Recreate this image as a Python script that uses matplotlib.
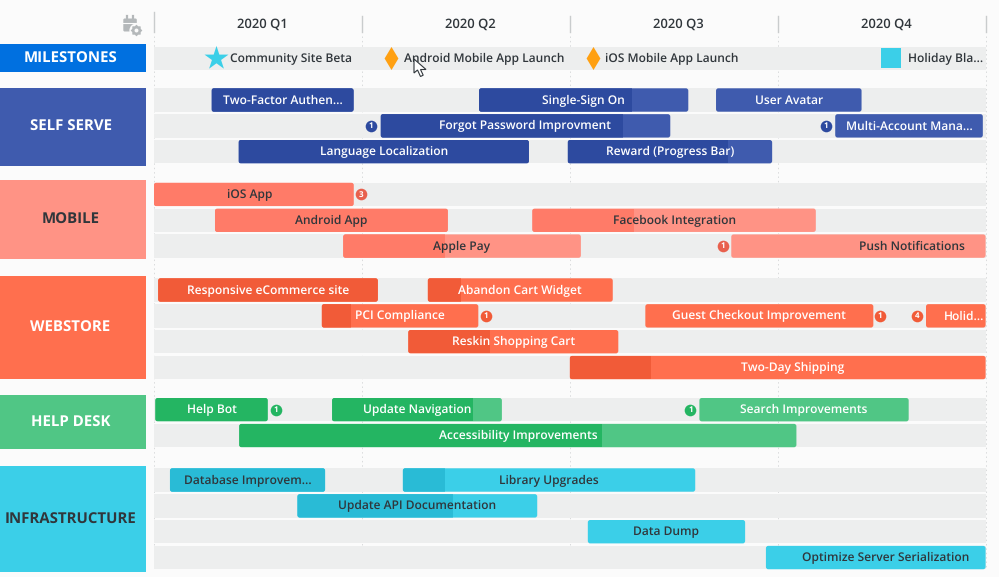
#!/usr/bin/env python3
"""Product roadmap 2020, swimlanes per team."""

import matplotlib

matplotlib.use("Agg")
import matplotlib.pyplot as plt
from matplotlib.patches import FancyBboxPatch, Polygon, Rectangle

plt.rcParams["font.family"] = ["Open Sans", "Noto Sans", "DejaVu Sans"]
plt.rcParams["text.hinting"] = "no_hinting"
plt.rcParams["text.hinting_factor"] = 1

# time axis is in months from the start of 2020
QUARTERS = ["2020 Q1", "2020 Q2", "2020 Q3", "2020 Q4"]

MILESTONE_LABELS = ["Community Site Beta", "Android Mobile App Launch", "iOS Mobile App Launch", "Holiday Bla..."]
MILESTONE_MONTHS = [0.89, 3.42, 6.33, 10.64]
MILESTONE_KINDS = ["star", "diamond", "diamond", "square"]

SELF_LABELS = ["Two-Factor Authen...", "Single-Sign On", "User Avatar", "Forgot Password Improvment",
               "Multi-Account Mana...", "Language Localization", "Reward (Progress Bar)"]
SELF_ROWS = [0, 0, 0, 1, 1, 2, 2]
SELF_START = [0.83, 4.69, 8.11, 3.27, 9.83, 1.22, 5.97]
SELF_END = [2.88, 7.71, 10.21, 7.45, 11.96, 5.41, 8.92]
SELF_DONE = [2.88, 6.90, 8.11, 6.77, 9.83, 5.41, 8.29]

MOBILE_LABELS = ["iOS App", "Android App", "Facebook Integration", "Apple Pay", "Push Notifications"]
MOBILE_ROWS = [0, 1, 1, 2, 2]
MOBILE_START = [0.0, 0.88, 5.46, 2.73, 8.33]
MOBILE_END = [2.88, 4.24, 9.55, 6.16, 12.0]
MOBILE_DONE = [2.88, 4.24, 6.93, 4.20, 8.33]

WEB_LABELS = ["Responsive eCommerce site", "Abandon Cart Widget", "PCI Compliance", "Guest Checkout Improvement",
              "Holid...", "Reskin Shopping Cart", "Two-Day Shipping"]
WEB_ROWS = [0, 0, 1, 1, 1, 2, 3]
WEB_START = [0.06, 3.95, 2.42, 7.09, 11.14, 3.67, 6.0]
WEB_END = [3.23, 6.62, 4.68, 10.38, 12.0, 6.70, 12.0]
WEB_DONE = [3.23, 4.43, 2.84, 7.09, 11.14, 4.85, 7.17]

HELP_LABELS = ["Help Bot", "Update Navigation", "Search Improvements", "Accessibility Improvements"]
HELP_ROWS = [0, 0, 0, 1]
HELP_START = [0.02, 2.57, 7.87, 1.23]
HELP_END = [1.64, 5.02, 10.89, 9.27]
HELP_DONE = [1.64, 4.61, 7.87, 6.46]

INFRA_LABELS = ["Database Improvem...", "Library Upgrades", "Update API Documentation", "Data Dump",
                "Optimize Server Serialization"]
INFRA_ROWS = [0, 0, 1, 2, 3]
INFRA_START = [0.23, 3.59, 2.07, 6.26, 8.83]
INFRA_END = [2.47, 7.81, 5.53, 8.53, 12.0]
INFRA_DONE = [2.47, 4.20, 4.31, 6.26, 8.83]

# dependency badges: month, row, count
SELF_BADGES = [(3.13, 1, 1), (9.70, 1, 1)]
MOBILE_BADGES = [(2.99, 0, 3), (8.21, 2, 1)]
WEB_BADGES = [(4.79, 1, 1), (10.48, 1, 1), (11.01, 1, 4)]
HELP_BADGES = [(1.76, 0, 1), (7.74, 0, 1)]

# bars whose label is not centred on the bar (visible part of the label)
LABEL_MONTHS = {"iOS App": 1.385, "Push Notifications": 10.94, "Holid...": 11.69,
                "Two-Day Shipping": 9.21, "Optimize Server Serialization": 10.56}

# layout in pixels
W, H = 999, 577
X0, PX_MONTH = 154.0, 69.3
ROW_H, ROW_PITCH = 23.4, 25.85
DARK_TEXT = "#30363b"
BAR_FONT = 8.6

GROUPS = [
    dict(name="SELF SERVE", top=88.3, rows=3, box=(88.0, 165.5), dark="#2d4a9f", light="#3f5bae", text="white",
         labels=SELF_LABELS, row=SELF_ROWS, start=SELF_START, end=SELF_END, done=SELF_DONE, badges=SELF_BADGES),
    dict(name="MOBILE", top=182.7, rows=3, box=(180.0, 259.3), dark="#ff7b68", light="#ff9385", text=DARK_TEXT,
         labels=MOBILE_LABELS, row=MOBILE_ROWS, start=MOBILE_START, end=MOBILE_END, done=MOBILE_DONE,
         badges=MOBILE_BADGES, badge="#e8604d"),
    dict(name="WEBSTORE", top=278.3, rows=4, box=(276.0, 379.3), dark="#f15b38", light="#ff6f4e", text="white",
         labels=WEB_LABELS, row=WEB_ROWS, start=WEB_START, end=WEB_END, done=WEB_DONE, badges=WEB_BADGES),
    dict(name="HELP DESK", top=398.0, rows=2, box=(395.3, 449.3), dark="#24b562", light="#50c685", text="white",
         labels=HELP_LABELS, row=HELP_ROWS, start=HELP_START, end=HELP_END, done=HELP_DONE, badges=HELP_BADGES),
    dict(name="INFRASTRUCTURE", top=468.3, rows=4, box=(466.0, 572.3), dark="#29bbd6", light="#3bcfe8",
         text=DARK_TEXT, labels=INFRA_LABELS, row=INFRA_ROWS, start=INFRA_START, end=INFRA_END, done=INFRA_DONE,
         badges=[]),
]


def px(x):
    return (x - X0) / PX_MONTH


def group_box(ax, name, top, bottom, color, text_color):
    ax.add_patch(Rectangle((px(0), top), 146 / PX_MONTH, bottom - top, color=color, lw=0, zorder=2))
    ax.text(px(70.5), (top + bottom) / 2 + 0.4, name, color=text_color, fontsize=10.6,
            fontweight="bold", ha="center", va="center", zorder=3)


def rounded(x0, x1, y, color, zorder):
    return FancyBboxPatch((x0, y), x1 - x0, ROW_H, boxstyle="round,pad=0,rounding_size=0.035",
                          mutation_aspect=PX_MONTH, facecolor=color, edgecolor="none", zorder=zorder)


def draw_group(ax, g):
    group_box(ax, g["name"], g["box"][0], g["box"][1], g["light"], g["text"])
    for r in range(g["rows"]):
        ax.add_patch(Rectangle((0, g["top"] + r * ROW_PITCH), 12, ROW_H, color="#edeeee", lw=0, zorder=1))

    for i, label in enumerate(g["labels"]):
        y = g["top"] + g["row"][i] * ROW_PITCH
        start, end, done = g["start"][i], g["end"][i], g["done"][i]
        ax.add_patch(rounded(start, end, y, g["light"], 4))
        if done > start:
            dark = rounded(start, end, y, g["dark"], 5)
            ax.add_patch(dark)
            dark.set_clip_path(Rectangle((start, y), done - start, ROW_H, transform=ax.transData))
        xc = LABEL_MONTHS.get(label, (start + end) / 2)
        ax.text(xc, y + ROW_H / 2 + 0.5, label, color=g["text"], fontsize=BAR_FONT, fontweight="semibold",
                ha="center", va="center", zorder=6)

    for month, row, count in g["badges"]:
        y = g["top"] + row * ROW_PITCH + ROW_H / 2
        ax.scatter([month], [y], s=70, color=g.get("badge", g["dark"]), linewidths=0, zorder=6)
        ax.text(month, y, str(count), color="white", fontsize=5.5, fontweight="bold",
                ha="center", va="center", zorder=7)


def draw_header(ax):
    for q in range(5):
        x = q * 3
        top = 12 if q == 0 else 16
        ax.plot([x, x], [top, 32], color="#c9cccd", lw=1.0, zorder=1)
        ax.plot([x, x], [36, H - 8], color="#d9dbdc", lw=0.7, ls=(0, (1.5, 3)), zorder=0.5)
    for q, label in enumerate(QUARTERS):
        ax.text(q * 3 + 1.5 + 0.07, 24.0, label, color="#30363b", fontsize=9.1, fontweight="semibold",
                ha="center", va="center")


def draw_milestones(ax):
    group_box(ax, "MILESTONES", 44.3, 72.3, "#0070e0", "white")
    ax.add_patch(Rectangle((0, 46.7), 12, ROW_H, color="#edeeee", lw=0, zorder=1))
    y = 46.7 + ROW_H / 2
    styles = {"star": ("*", 330, "#3bcfe8", 14.7), "diamond": ("d", 138, "#ffa012", 12.5),
              "square": ("s", 198, "#3bcfe8", 17.0)}
    for label, month, kind in zip(MILESTONE_LABELS, MILESTONE_MONTHS, MILESTONE_KINDS):
        marker, size, color, gap = styles[kind]
        ax.scatter([month], [y], marker=marker, s=size, color=color, linewidths=0, zorder=4)
        ax.text(month + gap / PX_MONTH, y + 0.3, label, color=DARK_TEXT, fontsize=BAR_FONT, fontweight="semibold",
                ha="left", va="center", zorder=5)


def draw_icons(ax):
    # calendar + gear in the header, and the mouse pointer from the screenshot
    icon = "#b4b8ba"
    ax.add_patch(FancyBboxPatch((px(123.3), 18.5), 13.5 / PX_MONTH, 13, boxstyle="round,pad=0,rounding_size=0.02",
                                mutation_aspect=PX_MONTH, facecolor=icon, edgecolor="none", zorder=3))
    for x in (127, 133):
        ax.plot([px(x), px(x)], [16, 19], color=icon, lw=1.6, zorder=3)
    ax.plot([px(123.3), px(136.8)], [22.7, 22.7], color="#fbfbfb", lw=0.8, zorder=3.5)
    ax.scatter([px(136.3)], [29.5], s=105, color="#fbfbfb", linewidths=0, zorder=3.6)
    ax.scatter([px(136.3)], [29.5], s=45, color=icon, linewidths=0, zorder=4)
    ax.scatter([px(136.3)], [29.5], s=48, marker=(8, 1, 0), color=icon, linewidths=1.3, zorder=4)
    ax.scatter([px(136.3)], [29.5], s=8, color="#fbfbfb", linewidths=0, zorder=5)

    arrow = [(414, 59), (414, 73), (417.5, 70), (420.5, 76.5), (423.2, 75.2), (420.5, 69.5), (426, 69.5)]
    ax.add_patch(Polygon([(px(a), b) for a, b in arrow], facecolor="white", edgecolor="#30363b",
                         lw=0.8, zorder=9))


def main() -> None:
    fig = plt.figure(figsize=(W / 100, H / 100), dpi=100, facecolor="#fbfbfb")
    ax = fig.add_axes([0, 0, 1, 1])
    ax.set_xlim(px(0), px(W))
    ax.set_ylim(H, 0)
    ax.axis("off")

    draw_header(ax)
    draw_milestones(ax)
    for g in GROUPS:
        draw_group(ax, g)
    draw_icons(ax)

    fig.savefig("out.png", dpi=100, facecolor=fig.get_facecolor())
    plt.close(fig)


if __name__ == "__main__":
    main()
